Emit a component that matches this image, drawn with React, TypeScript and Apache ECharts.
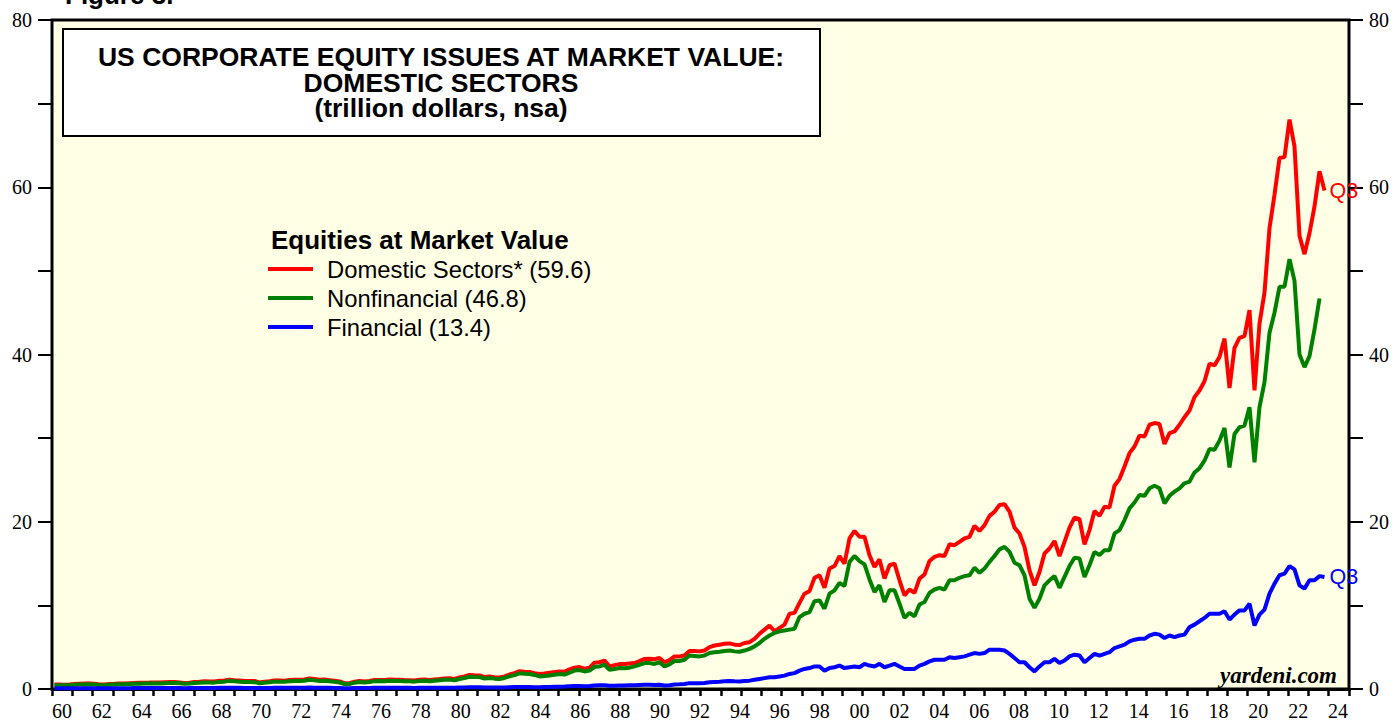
import React, { useEffect, useRef } from "react";
import * as echarts from "echarts";

// ---------- texts ----------
const FIGURE_LABEL = "Figure 3.";
const TITLE_LINES = [
  "US CORPORATE EQUITY ISSUES AT MARKET VALUE:",
  "DOMESTIC SECTORS",
  "(trillion dollars, nsa)",
];
const LEGEND_TITLE = "Equities at Market Value";
const SERIES_NAMES = ["Domestic Sectors* (59.6)", "Nonfinancial (46.8)", "Financial (13.4)"];
const SERIES_COLORS = ["#ff0000", "#008000", "#0000ff"];
const LAST_LABEL = "Q3";
const SOURCE = "yardeni.com";

// ---------- axes ----------
const START_YEAR = 1960; // first quarter = 1960 Q1
const X_TICK_FIRST = 1960;
const X_TICK_LAST = 2024;
const Y_MIN = 0;
const Y_MAX = 80;
const Y_TICK_STEP = 10;
const Y_LABEL_STEP = 20;

// ---------- data (trillion dollars, quarterly from 1960 Q1) ----------
// Domestic sectors (red), 1960 Q1 .. 2023 Q3
const domestic = [
  0.53, 0.53, 0.52, 0.55, // 1960
  0.59, 0.63, 0.65, 0.67, // 1961
  0.62, 0.54, 0.55, 0.59, // 1962
  0.62, 0.66, 0.67, 0.70, // 1963
  0.73, 0.75, 0.76, 0.77, // 1964
  0.79, 0.77, 0.82, 0.85, // 1965
  0.84, 0.79, 0.72, 0.76, // 1966
  0.84, 0.87, 0.92, 0.91, // 1967
  0.89, 0.99, 1.02, 1.12, // 1968
  1.06, 1.02, 0.96, 0.97, // 1969
  0.95, 0.79, 0.87, 0.93, // 1970
  1.02, 1.01, 1.00, 1.07, // 1971
  1.11, 1.12, 1.14, 1.27, // 1972
  1.19, 1.10, 1.13, 1.06, // 1973
  0.99, 0.90, 0.70, 0.70, // 1974
  0.88, 0.97, 0.90, 0.97, // 1975
  1.08, 1.09, 1.08, 1.14, // 1976
  1.10, 1.11, 1.08, 1.06, // 1977
  1.01, 1.10, 1.15, 1.08, // 1978
  1.15, 1.19, 1.26, 1.28, // 1979
  1.20, 1.37, 1.50, 1.67, // 1980
  1.64, 1.62, 1.44, 1.51, // 1981
  1.42, 1.37, 1.51, 1.73, // 1982
  1.89, 2.13, 2.06, 2.04, // 1983
  1.90, 1.80, 1.85, 1.95, // 1984
  2.02, 2.10, 2.05, 2.35, // 1985
  2.55, 2.62, 2.42, 2.55, // 1986
  3.15, 3.20, 3.40, 2.70, // 1987
  2.85, 2.98, 2.98, 3.05, // 1988
  3.10, 3.35, 3.60, 3.62, // 1989
  3.55, 3.70, 3.20, 3.45, // 1990
  3.90, 3.90, 4.00, 4.55, // 1991
  4.55, 4.50, 4.60, 5.00, // 1992
  5.20, 5.30, 5.40, 5.45, // 1993
  5.30, 5.25, 5.50, 5.60, // 1994
  6.00, 6.60, 7.10, 7.60, // 1995
  6.90, 7.30, 7.70, 9.00, // 1996
  9.10, 10.3, 11.4, 11.7, // 1997
  13.3, 13.6, 12.1, 14.4, // 1998
  14.7, 15.9, 15.0, 18.0, // 1999
  18.9, 18.2, 18.2, 16.0, // 2000
  14.6, 15.5, 13.2, 14.8, // 2001
  15.0, 13.0, 11.2, 11.9, // 2002
  11.5, 13.2, 13.7, 15.3, // 2003
  15.8, 16.0, 15.9, 17.3, // 2004
  17.2, 17.6, 18.0, 18.2, // 2005
  19.5, 18.9, 19.6, 20.7, // 2006
  21.2, 22.0, 22.1, 21.2, // 2007
  19.3, 18.6, 17.0, 14.2, // 2008
  12.4, 14.0, 16.2, 16.8, // 2009
  17.7, 15.9, 17.6, 19.3, // 2010
  20.5, 20.3, 17.3, 19.0, // 2011
  21.3, 20.7, 21.8, 21.7, // 2012
  24.3, 25.1, 26.6, 28.2, // 2013
  29.0, 30.3, 30.2, 31.6, // 2014
  31.8, 31.7, 29.3, 30.6, // 2015
  30.8, 31.6, 32.5, 33.3, // 2016
  34.9, 35.7, 36.8, 38.9, // 2017
  38.7, 39.7, 41.9, 36.0, // 2018
  40.8, 42.0, 42.2, 45.3, // 2019
  35.7, 43.7, 47.4, 55.1, // 2020
  59.1, 63.5, 63.6, 68.1, // 2021
  64.9, 54.2, 52.0, 54.5, // 2022
  57.7, 61.9, 59.6, // 2023
];

// Nonfinancial (green), 1960 Q1 .. 2023 Q2
const nonfinancial = [
  0.45, 0.45, 0.44, 0.46, // 1960
  0.50, 0.53, 0.55, 0.57, // 1961
  0.53, 0.46, 0.47, 0.50, // 1962
  0.53, 0.56, 0.57, 0.60, // 1963
  0.62, 0.64, 0.65, 0.66, // 1964
  0.68, 0.66, 0.70, 0.73, // 1965
  0.72, 0.68, 0.62, 0.65, // 1966
  0.72, 0.75, 0.79, 0.78, // 1967
  0.76, 0.85, 0.88, 0.97, // 1968
  0.92, 0.88, 0.83, 0.84, // 1969
  0.82, 0.68, 0.75, 0.80, // 1970
  0.88, 0.87, 0.86, 0.92, // 1971
  0.96, 0.97, 0.98, 1.10, // 1972
  1.03, 0.95, 0.98, 0.92, // 1973
  0.86, 0.78, 0.60, 0.60, // 1974
  0.76, 0.84, 0.78, 0.84, // 1975
  0.94, 0.95, 0.94, 0.99, // 1976
  0.96, 0.97, 0.94, 0.92, // 1977
  0.88, 0.96, 1.00, 0.94, // 1978
  1.00, 1.04, 1.10, 1.12, // 1979
  1.05, 1.20, 1.32, 1.47, // 1980
  1.44, 1.42, 1.26, 1.32, // 1981
  1.24, 1.20, 1.32, 1.52, // 1982
  1.66, 1.88, 1.82, 1.80, // 1983
  1.68, 1.50, 1.55, 1.62, // 1984
  1.70, 1.78, 1.72, 1.95, // 1985
  2.20, 2.26, 2.10, 2.20, // 1986
  2.65, 2.70, 2.90, 2.30, // 1987
  2.40, 2.50, 2.48, 2.55, // 1988
  2.70, 2.90, 3.10, 3.10, // 1989
  3.00, 3.20, 2.70, 2.95, // 1990
  3.35, 3.35, 3.50, 4.00, // 1991
  3.95, 3.90, 4.00, 4.30, // 1992
  4.40, 4.45, 4.55, 4.60, // 1993
  4.50, 4.45, 4.60, 4.80, // 1994
  5.10, 5.50, 6.00, 6.40, // 1995
  6.70, 6.90, 7.00, 7.10, // 1996
  7.20, 8.60, 9.00, 9.20, // 1997
  10.5, 10.6, 9.60, 11.4, // 1998
  11.8, 12.7, 12.3, 15.2, // 1999
  15.9, 15.3, 14.9, 13.1, // 2000
  11.6, 12.4, 10.4, 11.8, // 2001
  11.8, 10.2, 8.50, 9.10, // 2002
  8.70, 10.1, 10.4, 11.5, // 2003
  11.9, 12.1, 11.9, 13.0, // 2004
  13.0, 13.3, 13.5, 13.6, // 2005
  14.5, 13.9, 14.4, 15.2, // 2006
  15.9, 16.7, 17.0, 16.4, // 2007
  15.1, 14.8, 13.6, 10.8, // 2008
  9.70, 10.8, 12.4, 13.0, // 2009
  13.5, 12.1, 13.4, 14.7, // 2010
  15.7, 15.6, 13.4, 14.8, // 2011
  16.4, 16.0, 16.6, 16.6, // 2012
  18.6, 19.0, 20.2, 21.6, // 2013
  22.3, 23.2, 23.1, 24.0, // 2014
  24.3, 24.0, 22.2, 23.1, // 2015
  23.6, 24.0, 24.6, 24.8, // 2016
  25.9, 26.4, 27.3, 28.7, // 2017
  28.6, 29.7, 31.2, 26.5, // 2018
  30.5, 31.3, 31.5, 33.7, // 2019
  27.1, 33.7, 36.7, 42.6, // 2020
  45.0, 48.1, 48.1, 51.4, // 2021
  48.8, 40.0, 38.5, 39.8, // 2022
  43.0, 46.7, // 2023
];

// Financial (blue), 1960 Q1 .. 2023 Q3
const financial = [
  0.08, 0.08, 0.08, 0.09, // 1960
  0.09, 0.10, 0.10, 0.10, // 1961
  0.09, 0.08, 0.08, 0.09, // 1962
  0.09, 0.10, 0.10, 0.10, // 1963
  0.11, 0.11, 0.11, 0.11, // 1964
  0.11, 0.11, 0.12, 0.12, // 1965
  0.12, 0.11, 0.10, 0.11, // 1966
  0.12, 0.12, 0.13, 0.13, // 1967
  0.13, 0.14, 0.14, 0.15, // 1968
  0.14, 0.14, 0.13, 0.13, // 1969
  0.13, 0.11, 0.12, 0.13, // 1970
  0.14, 0.14, 0.14, 0.15, // 1971
  0.15, 0.15, 0.16, 0.17, // 1972
  0.16, 0.15, 0.15, 0.14, // 1973
  0.13, 0.12, 0.10, 0.10, // 1974
  0.12, 0.13, 0.12, 0.13, // 1975
  0.14, 0.14, 0.14, 0.15, // 1976
  0.14, 0.14, 0.14, 0.14, // 1977
  0.13, 0.14, 0.15, 0.14, // 1978
  0.15, 0.15, 0.16, 0.16, // 1979
  0.15, 0.17, 0.18, 0.20, // 1980
  0.20, 0.20, 0.18, 0.19, // 1981
  0.18, 0.17, 0.19, 0.21, // 1982
  0.23, 0.25, 0.24, 0.24, // 1983
  0.22, 0.22, 0.23, 0.24, // 1984
  0.26, 0.28, 0.29, 0.32, // 1985
  0.35, 0.37, 0.34, 0.36, // 1986
  0.42, 0.44, 0.45, 0.38, // 1987
  0.40, 0.42, 0.43, 0.44, // 1988
  0.45, 0.48, 0.50, 0.50, // 1989
  0.48, 0.50, 0.42, 0.46, // 1990
  0.55, 0.57, 0.60, 0.70, // 1991
  0.68, 0.70, 0.72, 0.80, // 1992
  0.85, 0.88, 0.92, 0.95, // 1993
  0.92, 0.90, 0.95, 1.00, // 1994
  1.10, 1.20, 1.30, 1.40, // 1995
  1.40, 1.50, 1.60, 1.80, // 1996
  1.90, 2.20, 2.40, 2.50, // 1997
  2.70, 2.70, 2.20, 2.50, // 1998
  2.60, 2.80, 2.50, 2.60, // 1999
  2.70, 2.60, 3.00, 2.80, // 2000
  2.70, 3.00, 2.60, 2.80, // 2001
  3.00, 2.70, 2.40, 2.40, // 2002
  2.40, 2.80, 3.00, 3.30, // 2003
  3.50, 3.50, 3.50, 3.80, // 2004
  3.70, 3.80, 3.90, 4.10, // 2005
  4.30, 4.20, 4.30, 4.70, // 2006
  4.70, 4.70, 4.60, 4.20, // 2007
  3.70, 3.20, 3.20, 2.60, // 2008
  2.10, 2.70, 3.20, 3.20, // 2009
  3.60, 3.10, 3.40, 3.90, // 2010
  4.10, 4.00, 3.20, 3.70, // 2011
  4.20, 4.00, 4.20, 4.40, // 2012
  4.90, 5.10, 5.30, 5.70, // 2013
  5.90, 6.00, 6.00, 6.40, // 2014
  6.60, 6.50, 6.10, 6.40, // 2015
  6.20, 6.40, 6.50, 7.40, // 2016
  7.70, 8.10, 8.50, 9.00, // 2017
  9.00, 9.00, 9.30, 8.30, // 2018
  8.90, 9.40, 9.40, 10.2, // 2019
  7.60, 8.90, 9.50, 11.4, // 2020
  12.6, 13.6, 13.8, 14.7, // 2021
  14.3, 12.4, 12.0, 13.0, // 2022
  13.0, 13.5, 13.4, // 2023
];

// each quarter is placed at its middle on a decimal-year axis
function toPoints(values: number[]) {
  return values.map((v, i) => [START_YEAR + (i + 0.5) / 4, v]);
}

const SANS = "Liberation Sans, Arial, sans-serif";
const SERIF = "Liberation Serif, Times New Roman, serif";

function yearLabel(v: number) {
  const r = Math.round(v * 2) / 2;
  if (Number.isInteger(r) && r % 2 === 0) return String(r % 100).padStart(2, "0");
  return "";
}

function yLabel(v: number) {
  return Math.round(v) % Y_LABEL_STEP === 0 ? String(Math.round(v)) : "";
}

function textEl(text: string, x: number, y: number, opts: any) {
  const style: any = {
    text,
    fill: opts.fill || "#000",
    fontSize: opts.fontSize,
    fontWeight: opts.fontWeight || "normal",
    fontStyle: opts.fontStyle || "normal",
    fontFamily: opts.fontFamily || SANS,
    align: opts.align || "left",
    textAlign: opts.align || "left",
    verticalAlign: "middle",
    textVerticalAlign: "middle",
  };
  if (opts.lineHeight) style.lineHeight = opts.lineHeight;
  return { type: "text", x, y, z: 20, style };
}

export default function App() {
  const ref = useRef<HTMLDivElement>(null);

  useEffect(() => {
    if (!ref.current) return;
    const chart = echarts.init(ref.current, null, { renderer: "svg" });

    const yAxisBase = (position: string) => ({
      type: "value",
      position,
      min: Y_MIN,
      max: Y_MAX,
      interval: Y_TICK_STEP,
      axisLine: { show: false },
      axisTick: { show: true, inside: false, length: 14, lineStyle: { color: "#000", width: 2 } },
      axisLabel: { show: true, margin: 20, fontFamily: SERIF, fontSize: 20, color: "#000", formatter: yLabel },
      splitLine: { show: false },
    });

    const seriesData = [domestic, nonfinancial, financial];
    const series = seriesData.map((vals, i) => ({
      type: "line",
      name: SERIES_NAMES[i],
      xAxisIndex: 0,
      yAxisIndex: 0,
      data: toPoints(vals),
      symbol: "none",
      showSymbol: false,
      lineStyle: { color: SERIES_COLORS[i], width: 4 },
      itemStyle: { color: SERIES_COLORS[i] },
      z: 3 + i,
      endLabel:
        i === 1
          ? { show: false }
          : {
              show: true,
              formatter: LAST_LABEL,
              color: SERIES_COLORS[i],
              fontSize: 21.5,
              fontFamily: SANS,
              distance: 5,
            },
    }));

    const legendY = [269, 298, 327];
    const graphic: any[] = [
      textEl(FIGURE_LABEL, 65, -5, { fontSize: 26, fontWeight: "bold" }),
      {
        type: "rect",
        z: 15,
        shape: { x: 63, y: 29, width: 757, height: 107 },
        style: { fill: "#ffffff", stroke: "#000", lineWidth: 2 },
      },
      textEl(TITLE_LINES.join("\n"), 441, 82.5, {
        fontSize: 26.5,
        fontWeight: "bold",
        align: "center",
        lineHeight: 25.5,
      }),
      textEl(LEGEND_TITLE, 271, 240, { fontSize: 26, fontWeight: "bold" }),
      ...SERIES_NAMES.map((n, i) => ({
        type: "line",
        z: 20,
        shape: { x1: 268, y1: legendY[i], x2: 313, y2: legendY[i] },
        style: { stroke: SERIES_COLORS[i], lineWidth: 4 },
      })),
      ...SERIES_NAMES.map((n, i) => textEl(n, 327, legendY[i], { fontSize: 23.8 })),
      textEl(SOURCE, 1337, 675, { fontSize: 23, fontWeight: "bold", fontStyle: "italic", fontFamily: SERIF, align: "right" }),
    ];

    chart.setOption({
      animation: false,
      backgroundColor: "#ffffff",
      grid: {
        left: 52,
        right: 46,
        top: 20,
        bottom: 30,
        show: true,
        backgroundColor: "#ffffe5",
        borderColor: "#000",
        borderWidth: 3,
      },
      xAxis: [
        { type: "value", min: X_TICK_FIRST, max: 2024.85, show: false },
        {
          type: "value",
          position: "bottom",
          min: X_TICK_FIRST,
          max: X_TICK_LAST,
          interval: 1,
          axisLine: { show: true, lineStyle: { color: "#000", width: 3 } },
          axisTick: { show: true, inside: false, length: 7, lineStyle: { color: "#000", width: 2.5 } },
          axisLabel: { show: false },
          splitLine: { show: false },
        },
        {
          type: "value",
          position: "bottom",
          min: 1959.5,
          max: 2024.55,
          interval: 0.5,
          axisLine: { show: false },
          axisTick: { show: false },
          splitLine: { show: false },
          axisLabel: { show: true, margin: 12, fontFamily: SERIF, fontSize: 20, color: "#000", formatter: yearLabel },
        },
      ],
      yAxis: [yAxisBase("left"), yAxisBase("right")],
      series,
      graphic,
    });

    return () => chart.dispose();
  }, []);

  return <div ref={ref} style={{ position: "absolute", left: 0, top: 0, width: 1395, height: 721 }} />;
}
